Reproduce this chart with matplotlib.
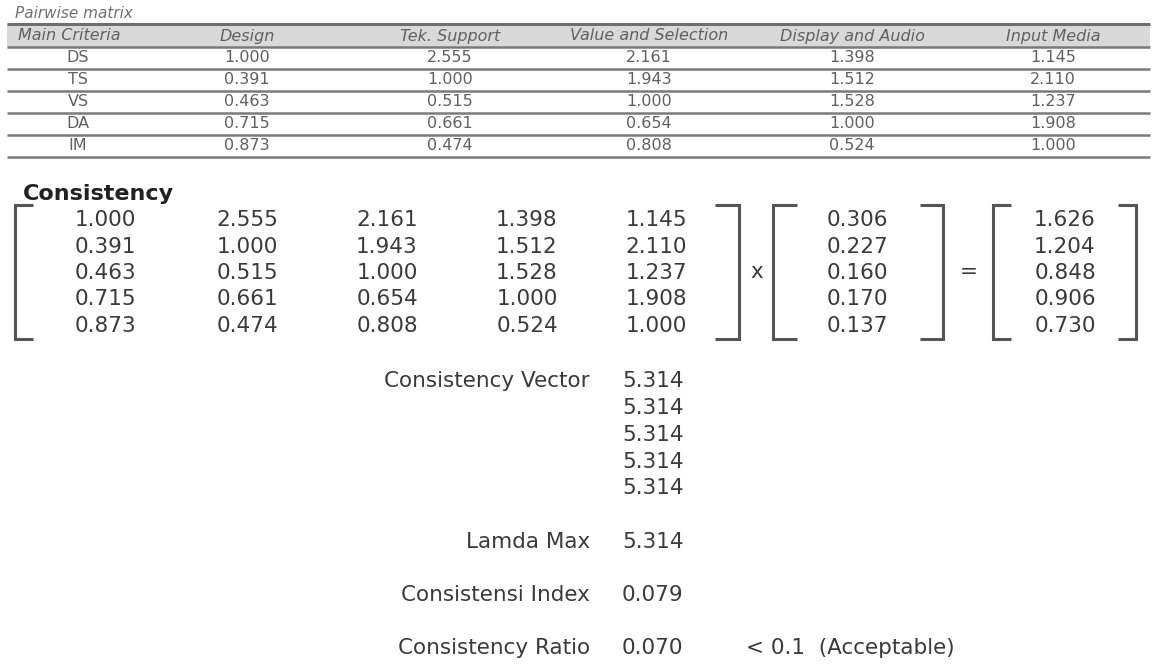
import matplotlib.pyplot as plt

# --- data ---
header = ['Main Criteria', 'Design', 'Tek. Support', 'Value and Selection',
          'Display and Audio', 'Input Media']
codes = ['DS', 'TS', 'VS', 'DA', 'IM']
pairwise = [
    [1.000, 2.555, 2.161, 1.398, 1.145],
    [0.391, 1.000, 1.943, 1.512, 2.110],
    [0.463, 0.515, 1.000, 1.528, 1.237],
    [0.715, 0.661, 0.654, 1.000, 1.908],
    [0.873, 0.474, 0.808, 0.524, 1.000],
]
weights = [0.306, 0.227, 0.160, 0.170, 0.137]
weighted_sum = [1.626, 1.204, 0.848, 0.906, 0.730]
cons_vector = [5.314, 5.314, 5.314, 5.314, 5.314]
lamda_max = 5.314
ci = 0.079
cr = 0.070

W, H = 1153, 664
fig = plt.figure(figsize=(W / 100, H / 100), dpi=100)
ax = fig.add_axes([0, 0, 1, 1])
ax.set_xlim(0, W)
ax.set_ylim(H, 0)
ax.axis('off')

font = 'DejaVu Sans'
grey = '#606060'
dark = '#3a3a3a'
tfs = 11.5  # top table font size

# ---------------- pairwise table ----------------
ax.text(15, 14, 'Pairwise matrix', fontsize=11, style='italic', color='#707070',
        family=font, va='center')
ax.axhspan(24, 47, xmin=7 / W, xmax=1150 / W, color='#d9d9d9', lw=0)
ax.hlines(24, 7, 1150, color='#6e6e6e', lw=2.2)
col_x = [78, 247, 450, 649, 852, 1053]
ax.text(18, 36, header[0], fontsize=tfs, style='italic', color=grey, family=font,
        va='center', ha='left')
for j, h in enumerate(header[1:], start=1):
    ax.text(col_x[j], 36, h, fontsize=tfs, style='italic', color=grey,
            family=font, va='center', ha='center')
row_y = [58, 80, 102, 124, 146]
line_y = [47, 69, 91, 113, 135, 157]
for y in line_y:
    ax.hlines(y, 7, 1150, color='#7a7a7a', lw=1.8)
for i, code in enumerate(codes):
    ax.text(col_x[0], row_y[i], code, fontsize=tfs, color=grey, family=font,
            va='center', ha='center')
    for j, v in enumerate(pairwise[i]):
        ax.text(col_x[j + 1], row_y[i], f'{v:.3f}', fontsize=tfs, color=grey,
                family=font, va='center', ha='center')

# ---------------- consistency ----------------
ax.text(23, 194, 'Consistency', fontsize=16, fontweight='bold', color='#222222',
        family=font, va='center')

fs = 15.5
m_x = [105, 247, 387, 527, 656]
m_y = [220, 247, 273, 299, 326]
for i in range(5):
    for j in range(5):
        ax.text(m_x[j], m_y[i], f'{pairwise[i][j]:.3f}', fontsize=fs, color=dark,
                family=font, va='center', ha='center')
    ax.text(857, m_y[i], f'{weights[i]:.3f}', fontsize=fs, color=dark,
            family=font, va='center', ha='center')
    ax.text(1065, m_y[i], f'{weighted_sum[i]:.3f}', fontsize=fs, color=dark,
            family=font, va='center', ha='center')


def bracket(x, tip, y0=205, y1=339):
    ax.plot([tip, x, x, tip], [y0, y0, y1, y1], color='#555555', lw=2.2,
            solid_capstyle='butt', solid_joinstyle='miter')


bracket(15, 33)
bracket(739, 715)
bracket(773, 797)
bracket(943, 920)
bracket(993, 1011)
bracket(1136, 1118)
ax.text(757, 272, 'x', fontsize=fs, color=dark, family=font, va='center', ha='center')
ax.text(969, 272, '=', fontsize=fs, color=dark, family=font, va='center', ha='center')

# ---------------- summary ----------------
lab_x, val_x = 590, 622
cv_y = [381, 408, 435, 462, 488]
ax.text(lab_x, cv_y[0], 'Consistency Vector', fontsize=fs, color=dark, family=font,
        va='center', ha='right')
for y, v in zip(cv_y, cons_vector):
    ax.text(val_x, y, f'{v:.3f}', fontsize=fs, color=dark, family=font,
            va='center', ha='left')
ax.text(lab_x, 542, 'Lamda Max', fontsize=fs, color=dark, family=font,
        va='center', ha='right')
ax.text(val_x, 542, f'{lamda_max:.3f}', fontsize=fs, color=dark, family=font,
        va='center', ha='left')
ax.text(lab_x, 595, 'Consistensi Index', fontsize=fs, color=dark, family=font,
        va='center', ha='right')
ax.text(val_x, 595, f'{ci:.3f}', fontsize=fs, color=dark, family=font,
        va='center', ha='left')
ax.text(lab_x, 648, 'Consistency Ratio', fontsize=fs, color=dark, family=font,
        va='center', ha='right')
ax.text(val_x, 648, f'{cr:.3f}', fontsize=fs, color=dark, family=font,
        va='center', ha='left')
ax.text(746, 648, '< 0.1  (Acceptable)', fontsize=fs, color=dark, family=font,
        va='center', ha='left')

fig.savefig('out.png', dpi=100)
